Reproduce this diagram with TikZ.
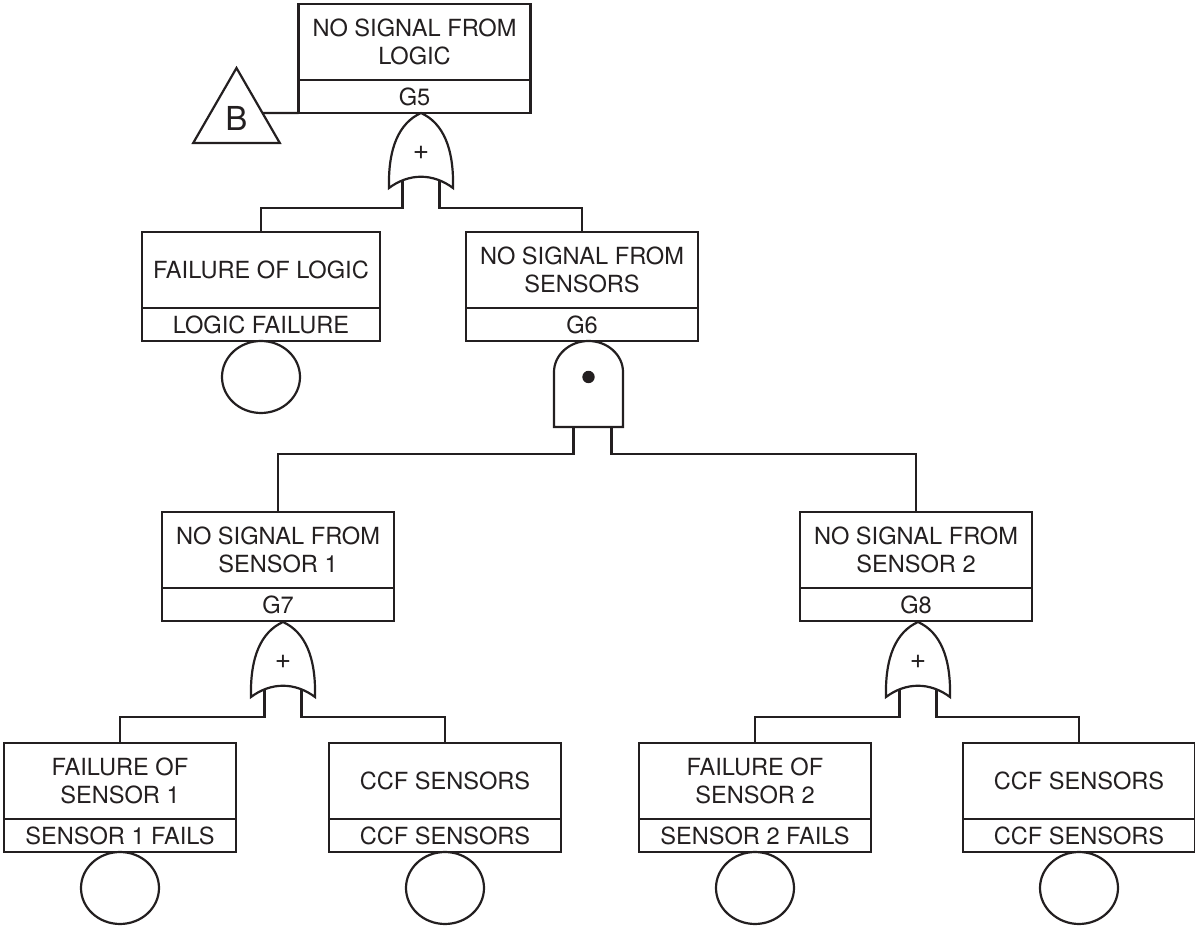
\documentclass[tikz,border=0pt]{standalone}
\usepackage{fontspec}
\setmainfont{TeX Gyre Heros}
\usetikzlibrary{shapes.geometric}
\definecolor{ink}{HTML}{231F20}

\begin{document}
\begin{tikzpicture}[x=0.5pt,y=-0.5pt,line width=1.1pt,color=ink,
	every node/.style={font=\fontsize{11.8}{14}\selectfont},
	desc/.style={draw,anchor=north,align=center,inner sep=0pt,outer sep=0pt,minimum width=116pt,minimum height=38pt},
	ident/.style={draw,anchor=north,inner sep=0pt,outer sep=0pt,minimum width=116pt,minimum height=16.5pt},
	basic/.style={draw,ellipse,anchor=north,inner sep=0pt,outer sep=0pt,minimum width=39pt,minimum height=36pt},
	orgate/.pic={
		\draw (0,0) .. controls (22,10) and (33,35) .. (32,75)
			.. controls (12,60) and (-12,60) .. (-32,75)
			.. controls (-33,35) and (-22,10) .. (0,0) -- cycle;
		\node[font=\fontsize{14}{16}\selectfont] at (0,40) {+};
		\coordinate (-l) at (-18.5,67);
		\coordinate (-r) at (18.5,67);
		\coordinate (-lb) at (-18.5,95);
		\coordinate (-rb) at (18.5,95);
	},
	andgate/.pic={
		\draw (-34.5,86) -- (-34.5,31) .. controls (-34.5,14) and (-19,0) .. (0,0)
			.. controls (19,0) and (34.5,14) .. (34.5,31) -- (34.5,86) -- cycle;
		\fill (0,36) circle (3.1pt);
		\coordinate (-l) at (-15,86);
		\coordinate (-r) at (23,86);
		\coordinate (-lb) at (-15,113);
		\coordinate (-rb) at (23,113);
	}]
	\useasboundingbox (0,0) rectangle (1195,929);

	% top event and transfer
	\node[desc] (g5) at (414.5,4) {NO SIGNAL FROM\\LOGIC};
	\node[ident] (g5id) at (g5.south) {G5};
	\node[draw,regular polygon,regular polygon sides=3,minimum size=50pt,inner sep=0pt,outer sep=0pt,
		font=\fontsize{16.5}{18}\selectfont] (trB) at (236.5,118) {B};
	\draw (g5id.south west) -- (intersection of g5id.south west--g5id.south east and trB.corner 1--trB.corner 3);
	\pic (g5or) at (421,113) {orgate};

	% second level
	\node[desc,minimum width=119pt] (logic) at (261,232) {FAILURE OF LOGIC};
	\node[ident,minimum width=119pt] (logicid) at (logic.south) {LOGIC FAILURE};
	\node[basic] (logice) at (logicid.south) {};
	\node[desc] (g6) at (582,232) {NO SIGNAL FROM\\SENSORS};
	\node[ident] (g6id) at (g6.south) {G6};
	\pic (g6and) at (588.5,341) {andgate};
	\draw (g5or-l) -- (g5or-lb) -| (logic.north);
	\draw (g5or-r) -- (g5or-rb) -| (g6.north);

	% sensor branches
	\node[desc] (g7) at (278,512) {NO SIGNAL FROM\\SENSOR 1};
	\node[ident] (g7id) at (g7.south) {G7};
	\node[desc] (g8) at (916,512) {NO SIGNAL FROM\\SENSOR 2};
	\node[ident] (g8id) at (g8.south) {G8};
	\draw (g6and-l) -- (g6and-lb) -| (g7.north);
	\draw (g6and-r) -- (g6and-rb) -| (g8.north);
	\pic (g7or) at (283,622) {orgate};
	\pic (g8or) at (918,622) {orgate};

	% basic events
	\node[desc] (s1) at (120,743) {FAILURE OF\\SENSOR 1};
	\node[ident] (s1id) at (s1.south) {SENSOR 1 FAILS};
	\node[basic] (s1e) at (s1id.south) {};
	\node[desc] (ccfa) at (445,743) {CCF SENSORS};
	\node[ident] (ccfaid) at (ccfa.south) {CCF SENSORS};
	\node[basic] (ccfae) at (ccfaid.south) {};
	\node[desc] (s2) at (755,743) {FAILURE OF\\SENSOR 2};
	\node[ident] (s2id) at (s2.south) {SENSOR 2 FAILS};
	\node[basic] (s2e) at (s2id.south) {};
	\node[desc] (ccfb) at (1079,743) {CCF SENSORS};
	\node[ident] (ccfbid) at (ccfb.south) {CCF SENSORS};
	\node[basic] (ccfbe) at (ccfbid.south) {};
	\draw (g7or-l) -- (g7or-lb) -| (s1.north);
	\draw (g7or-r) -- (g7or-rb) -| (ccfa.north);
	\draw (g8or-l) -- (g8or-lb) -| (s2.north);
	\draw (g8or-r) -- (g8or-rb) -| (ccfb.north);
\end{tikzpicture}
\end{document}
